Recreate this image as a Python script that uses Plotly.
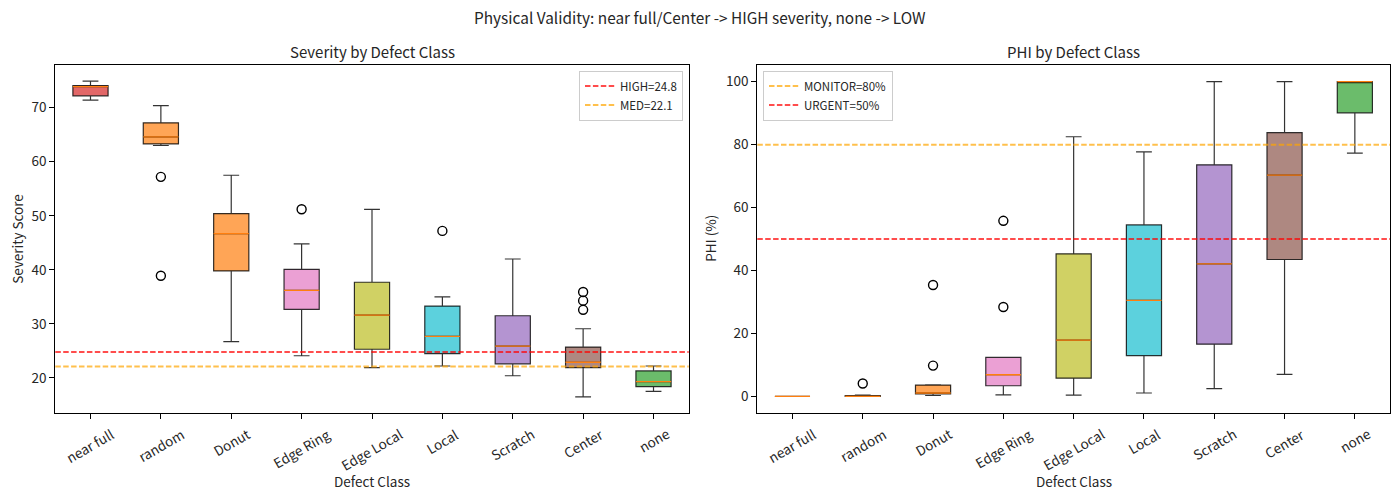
import plotly.graph_objects as go

categories = ["near full", "random", "Donut", "Edge Ring", "Edge Local", "Local", "Scratch", "Center", "none"]
box_colors = ["#d62728", "#ff7f0e", "#ff7f0e", "#e377c2", "#bcbd22", "#17becf", "#9467bd", "#8c564b", "#2ca02c"]

# Severity score statistics per class
sev_low = [71.4, 63.0, 26.7, 24.1, 21.9, 22.2, 20.4, 16.5, 17.5]
sev_q1 = [72.2, 63.3, 39.8, 32.7, 25.3, 24.5, 22.6, 21.9, 18.4]
sev_med = [73.9, 64.6, 46.7, 36.2, 31.6, 27.7, 25.9, 22.9, 19.3]
sev_q3 = [74.1, 67.2, 50.4, 40.1, 37.7, 33.3, 31.5, 25.7, 21.3]
sev_high = [74.9, 70.4, 57.5, 44.8, 51.2, 35.0, 42.0, 29.1, 22.2]
sev_outliers = [[], [57.2, 38.9], [], [51.2], [], [47.2], [], [35.9, 34.3, 32.6], []]

# PHI (%) statistics per class
phi_low = [0.0, 0.0, 0.3, 0.5, 0.4, 1.1, 2.5, 7.0, 77.3]
phi_q1 = [0.0, 0.0, 0.8, 3.4, 5.8, 13.0, 16.6, 43.5, 90.1]
phi_med = [0.0, 0.0, 1.1, 6.9, 17.9, 30.5, 42.1, 70.3, 100.0]
phi_q3 = [0.0, 0.3, 3.6, 12.4, 45.3, 54.5, 73.6, 83.8, 100.0]
phi_high = [0.0, 0.4, 3.7, 12.4, 82.5, 77.7, 100.0, 100.0, 100.0]
phi_outliers = [[], [4.1], [35.4, 9.8], [55.8, 28.4], [], [], [], [], []]

sev_ticks = [20, 30, 40, 50, 60, 70]
phi_ticks = [0, 20, 40, 60, 80, 100]

sev_thresholds = [("HIGH=24.8", 24.8, "rgba(255,0,0,0.7)"), ("MED=22.1", 22.1, "rgba(255,165,0,0.7)")]
phi_thresholds = [("MONITOR=80%", 80, "rgba(255,165,0,0.7)"), ("URGENT=50%", 50, "rgba(255,0,0,0.7)")]

FONT = "Noto Sans CJK KR, Noto Sans, DejaVu Sans"
TXT = "#262626"
BOX_W = 0.5
W, H = 1400, 498


def rgba(hexc, a):
    h = hexc.lstrip("#")
    return "rgba(%d,%d,%d,%s)" % (int(h[0:2], 16), int(h[2:4], 16), int(h[4:6], 16), a)


fig = go.Figure()


def add_panel(xa, ya, low, q1, med, q3, high, outliers):
    for i, c in enumerate(categories):
        fig.add_trace(go.Box(
            x=[i], q1=[q1[i]], median=[med[i]], q3=[q3[i]],
            lowerfence=[low[i]], upperfence=[high[i]],
            width=BOX_W, whiskerwidth=0.45, boxpoints=False,
            fillcolor=rgba(box_colors[i], 0.7),
            line=dict(color="rgba(0,0,0,0.8)", width=1.2),
            xaxis=xa, yaxis=ya, showlegend=False, hoverinfo="skip",
        ))
    mx, my = [], []
    for i in range(len(categories)):
        mx += [i - BOX_W / 2, i + BOX_W / 2, None]
        my += [med[i], med[i], None]
    fig.add_trace(go.Scatter(x=mx, y=my, mode="lines", line=dict(color="#ff7f0e", width=1.3),
                             xaxis=xa, yaxis=ya, showlegend=False, hoverinfo="skip"))
    ox, oy = [], []
    for i, vals in enumerate(outliers):
        for v in vals:
            ox.append(i)
            oy.append(v)
    fig.add_trace(go.Scatter(x=ox, y=oy, mode="markers",
                             marker=dict(symbol="circle-open", size=9, color="black", line=dict(width=1.4)),
                             xaxis=xa, yaxis=ya, showlegend=False, hoverinfo="skip"))


add_panel("x", "y", sev_low, sev_q1, sev_med, sev_q3, sev_high, sev_outliers)
add_panel("x2", "y2", phi_low, phi_q1, phi_med, phi_q3, phi_high, phi_outliers)

for name, val, col in sev_thresholds:
    fig.add_shape(type="line", xref="x domain", yref="y", x0=0, x1=1, y0=val, y1=val,
                  line=dict(color=col, width=2, dash="5.5px,2.4px"),
                  showlegend=True, name=name, legend="legend")
for name, val, col in phi_thresholds:
    fig.add_shape(type="line", xref="x2 domain", yref="y2", x0=0, x1=1, y0=val, y1=val,
                  line=dict(color=col, width=2, dash="5.5px,2.4px"),
                  showlegend=True, name=name, legend="legend2")

axis_common = dict(showline=True, mirror=True, linecolor="black", linewidth=1.1,
                   ticks="outside", ticklen=5, tickwidth=1.1, tickcolor="black",
                   showgrid=False, zeroline=False, automargin=False,
                   tickfont=dict(family=FONT, size=13.5, color=TXT))

x1_dom = [55.3 / W, 688.7 / W]
x2_dom = [757.3 / W, 1390 / W]
y_dom = [1 - 412.5 / H, 1 - 65 / H]

fig.update_layout(
    width=W, height=H,
    margin=dict(l=0, r=0, t=0, b=0, autoexpand=False),
    plot_bgcolor="white", paper_bgcolor="white",
    font=dict(family=FONT, color=TXT),
    xaxis=dict(domain=x1_dom, range=[-0.5, 8.5], tickvals=list(range(9)),
               showticklabels=False, anchor="y", **axis_common),
    yaxis=dict(domain=y_dom, range=[13.6, 77.9], tickvals=sev_ticks, anchor="x", **axis_common),
    xaxis2=dict(domain=x2_dom, range=[-0.5, 8.5], tickvals=list(range(9)),
                showticklabels=False, anchor="y2", **axis_common),
    yaxis2=dict(domain=y_dom, range=[-5.1, 105.3], tickvals=phi_ticks, anchor="x2", **axis_common),
    legend=dict(x=683 / W, y=1 - 70.5 / H, xanchor="right", yanchor="top",
                bgcolor="rgba(255,255,255,0.8)", bordercolor="#cccccc", borderwidth=1,
                font=dict(family=FONT, size=11.5, color=TXT), tracegroupgap=0,
                itemwidth=30),
    legend2=dict(x=763 / W, y=1 - 70.5 / H, xanchor="left", yanchor="top",
                 bgcolor="rgba(255,255,255,0.8)", bordercolor="#cccccc", borderwidth=1,
                 font=dict(family=FONT, size=11.5, color=TXT), tracegroupgap=0,
                 itemwidth=30),
    showlegend=True,
)

# rotated category labels, centred under each tick (as in the original)
for xa in ["x", "x2"]:
    for i, c in enumerate(categories):
        fig.add_annotation(xref=xa, yref="paper", x=i, y=1 - 421 / H, text=c, textangle=-30,
                           showarrow=False, xanchor="center", yanchor="top",
                           font=dict(family=FONT, size=13.5, color=TXT))

xc1 = (x1_dom[0] + x1_dom[1]) / 2
xc2 = (x2_dom[0] + x2_dom[1]) / 2
annos = [
    dict(text="Physical Validity: near full/Center -> HIGH severity, none -> LOW", x=0.5, y=1 - 17 / H, size=15.4),
    dict(text="Severity by Defect Class", x=xc1, y=1 - 52 / H, size=15),
    dict(text="PHI by Defect Class", x=xc2, y=1 - 52 / H, size=15),
    dict(text="Defect Class", x=xc1, y=1 - 481 / H, size=13.5),
    dict(text="Defect Class", x=xc2, y=1 - 481 / H, size=13.5),
    dict(text="Severity Score", x=17 / W, y=1 - 238.7 / H, angle=-90, size=13.5),
    dict(text="PHI (%)", x=710 / W, y=1 - 238.7 / H, angle=-90, size=13.5),
]
for a in annos:
    fig.add_annotation(xref="paper", yref="paper", showarrow=False, xanchor="center", yanchor="middle",
                       x=a["x"], y=a["y"], text=a["text"], textangle=a.get("angle", 0),
                       font=dict(family=FONT, color=TXT, size=a["size"]))

fig.write_html("out.html")
